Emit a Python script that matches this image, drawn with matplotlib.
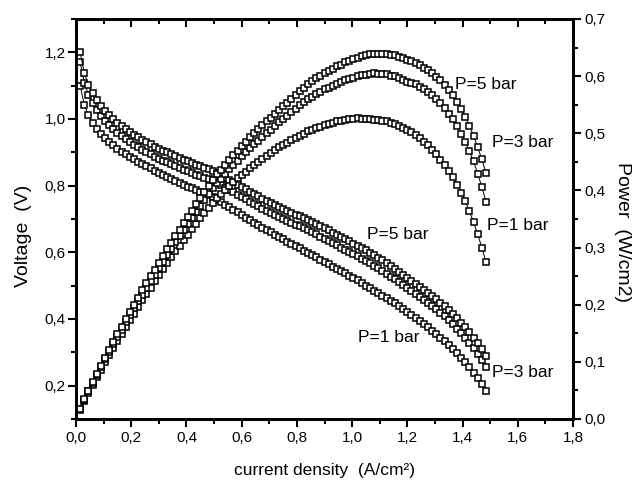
import matplotlib
matplotlib.use('Agg')
import matplotlib.pyplot as plt
from matplotlib.ticker import MultipleLocator, FuncFormatter
import numpy as np

# current density (A/cm2), one point every 0.015
current_density = np.array([
    0.015, 0.03, 0.045, 0.06, 0.075, 0.09, 0.105, 0.12, 0.135, 0.15,
    0.165, 0.18, 0.195, 0.21, 0.225, 0.24, 0.255, 0.27, 0.285, 0.3,
    0.315, 0.33, 0.345, 0.36, 0.375, 0.39, 0.405, 0.42, 0.435, 0.45,
    0.465, 0.48, 0.495, 0.51, 0.525, 0.54, 0.555, 0.57, 0.585, 0.6,
    0.615, 0.63, 0.645, 0.66, 0.675, 0.69, 0.705, 0.72, 0.735, 0.75,
    0.765, 0.78, 0.795, 0.81, 0.825, 0.84, 0.855, 0.87, 0.885, 0.9,
    0.915, 0.93, 0.945, 0.96, 0.975, 0.99, 1.005, 1.02, 1.035, 1.05,
    1.065, 1.08, 1.095, 1.11, 1.125, 1.14, 1.155, 1.17, 1.185, 1.2,
    1.215, 1.23, 1.245, 1.26, 1.275, 1.29, 1.305, 1.32, 1.335, 1.35,
    1.365, 1.38, 1.395, 1.41, 1.425, 1.44, 1.455, 1.47, 1.485])

voltage_5bar = np.array([
    1.200, 1.139, 1.103, 1.077, 1.056, 1.039, 1.024, 1.011, 0.999, 0.988,
    0.978, 0.969, 0.960, 0.952, 0.945, 0.937, 0.930, 0.924, 0.917, 0.911,
    0.905, 0.900, 0.894, 0.889, 0.883, 0.878, 0.873, 0.868, 0.863, 0.859,
    0.854, 0.850, 0.845, 0.839, 0.831, 0.824, 0.817, 0.810, 0.803, 0.796,
    0.789, 0.782, 0.775, 0.768, 0.761, 0.755, 0.748, 0.741, 0.736, 0.730,
    0.724, 0.719, 0.713, 0.708, 0.702, 0.697, 0.691, 0.686, 0.679, 0.673,
    0.666, 0.659, 0.653, 0.646, 0.640, 0.633, 0.626, 0.620, 0.613, 0.606,
    0.599, 0.592, 0.584, 0.576, 0.568, 0.559, 0.551, 0.542, 0.533, 0.524,
    0.515, 0.506, 0.497, 0.488, 0.479, 0.469, 0.459, 0.449, 0.438, 0.427,
    0.415, 0.402, 0.389, 0.375, 0.360, 0.344, 0.327, 0.309, 0.290])

voltage_3bar = np.array([
    1.170, 1.109, 1.073, 1.047, 1.026, 1.009, 0.994, 0.981, 0.969, 0.958,
    0.948, 0.939, 0.930, 0.922, 0.915, 0.907, 0.900, 0.894, 0.887, 0.881,
    0.875, 0.870, 0.864, 0.859, 0.853, 0.848, 0.843, 0.838, 0.833, 0.829,
    0.824, 0.820, 0.815, 0.809, 0.801, 0.794, 0.787, 0.780, 0.773, 0.766,
    0.759, 0.752, 0.745, 0.738, 0.731, 0.725, 0.718, 0.711, 0.706, 0.700,
    0.694, 0.689, 0.683, 0.678, 0.672, 0.667, 0.660, 0.654, 0.647, 0.641,
    0.634, 0.627, 0.621, 0.614, 0.608, 0.601, 0.594, 0.588, 0.581, 0.574,
    0.567, 0.560, 0.552, 0.544, 0.536, 0.527, 0.519, 0.510, 0.501, 0.492,
    0.484, 0.476, 0.467, 0.458, 0.449, 0.439, 0.429, 0.419, 0.408, 0.396,
    0.384, 0.371, 0.358, 0.344, 0.329, 0.313, 0.295, 0.276, 0.256])

voltage_1bar = np.array([
    1.100, 1.043, 1.011, 0.988, 0.970, 0.955, 0.942, 0.931, 0.921, 0.911,
    0.902, 0.894, 0.886, 0.879, 0.872, 0.865, 0.858, 0.852, 0.845, 0.839,
    0.832, 0.827, 0.820, 0.815, 0.808, 0.803, 0.797, 0.792, 0.786, 0.781,
    0.776, 0.771, 0.765, 0.758, 0.750, 0.742, 0.735, 0.727, 0.720, 0.712,
    0.704, 0.697, 0.689, 0.682, 0.674, 0.668, 0.660, 0.653, 0.647, 0.639,
    0.632, 0.626, 0.618, 0.612, 0.605, 0.599, 0.591, 0.585, 0.578, 0.572,
    0.564, 0.557, 0.551, 0.544, 0.537, 0.530, 0.522, 0.516, 0.508, 0.500,
    0.493, 0.485, 0.478, 0.470, 0.463, 0.454, 0.447, 0.438, 0.430, 0.421,
    0.413, 0.404, 0.395, 0.385, 0.376, 0.365, 0.355, 0.344, 0.333, 0.322,
    0.310, 0.297, 0.284, 0.270, 0.255, 0.239, 0.222, 0.204, 0.185])

# power density = current density x voltage
power_5bar = current_density * voltage_5bar
power_3bar = current_density * voltage_3bar
power_1bar = current_density * voltage_1bar

plt.rcParams['font.family'] = ['Liberation Sans', 'DejaVu Sans']

fig = plt.figure(figsize=(6.41, 4.83), dpi=100)
ax = fig.add_axes([76 / 641, 64 / 483, 497 / 641, 400 / 483])
ax2 = ax.twinx()

style = dict(color='black', lw=0.7, marker='s', ms=5, mfc='white',
             mec='black', mew=1.1)

for v in (voltage_1bar, voltage_3bar, voltage_5bar):
    ax.plot(current_density, v, **style)
for p in (power_1bar, power_3bar, power_5bar):
    ax2.plot(current_density, p, **style)

ax.set_xlim(0, 1.8)
ax.set_ylim(0.1, 1.3)
ax2.set_ylim(0, 0.7)

comma = FuncFormatter(lambda v, pos: "{0:.1f}".format(v).replace('.', ','))

ax.xaxis.set_major_locator(MultipleLocator(0.2))
ax.xaxis.set_minor_locator(MultipleLocator(0.1))
ax.yaxis.set_major_locator(MultipleLocator(0.2))
ax.yaxis.set_minor_locator(MultipleLocator(0.1))
ax2.yaxis.set_major_locator(MultipleLocator(0.1))
ax2.yaxis.set_minor_locator(MultipleLocator(0.05))
ax.xaxis.set_major_formatter(comma)
ax.yaxis.set_major_formatter(comma)
ax2.yaxis.set_major_formatter(comma)

for a in (ax, ax2):
    for s in a.spines.values():
        s.set_linewidth(2)

ax.tick_params(axis='x', which='major', direction='out', length=6, width=1.5,
               labelsize=11, pad=3)
ax.tick_params(axis='x', which='minor', direction='out', length=3.5, width=1.5)
ax.tick_params(axis='y', which='major', direction='out', length=6, width=1.5,
               labelsize=11, pad=1.5, right=False)
ax.tick_params(axis='y', which='minor', direction='out', length=3.5, width=1.5,
               right=False)
ax2.tick_params(axis='y', which='major', direction='out', length=6, width=1.5,
                labelsize=11, pad=2)
ax2.tick_params(axis='y', which='minor', direction='out', length=3.5, width=1.5)

# top axis: ticks pointing in, no labels
top = ax.secondary_xaxis('top')
top.xaxis.set_major_locator(MultipleLocator(0.2))
top.xaxis.set_minor_locator(MultipleLocator(0.1))
top.tick_params(which='major', direction='in', length=6, width=1.5,
                labeltop=False)
top.tick_params(which='minor', direction='in', length=3.5, width=1.5)
top.spines['top'].set_linewidth(2)

fig.text(24 / 641, 1 - 236 / 483, 'Voltage  (V)', rotation=90,
         ha='center', va='center', fontsize=14)
fig.text(622 / 641, 1 - 232 / 483, 'Power  (W/cm2)', rotation=270,
         ha='center', va='center', fontsize=14)
fig.text(325 / 641, 1 - 470 / 483, 'current density  (A/cm\u00b2)',
         ha='center', va='center', fontsize=12.5)

# curve labels
ax2.text(1.372, 0.586, 'P=5 bar', fontsize=12.5, va='center')
ax2.text(1.506, 0.483, 'P=3 bar', fontsize=12.5, va='center')
ax2.text(1.488, 0.338, 'P=1 bar', fontsize=12.5, va='center')
ax.text(1.053, 0.652, 'P=5 bar', fontsize=12.5, va='center')
ax.text(1.020, 0.343, 'P=1 bar', fontsize=12.5, va='center')
ax.text(1.506, 0.239, 'P=3 bar', fontsize=12.5, va='center')

fig.savefig('out.png', dpi=100)
